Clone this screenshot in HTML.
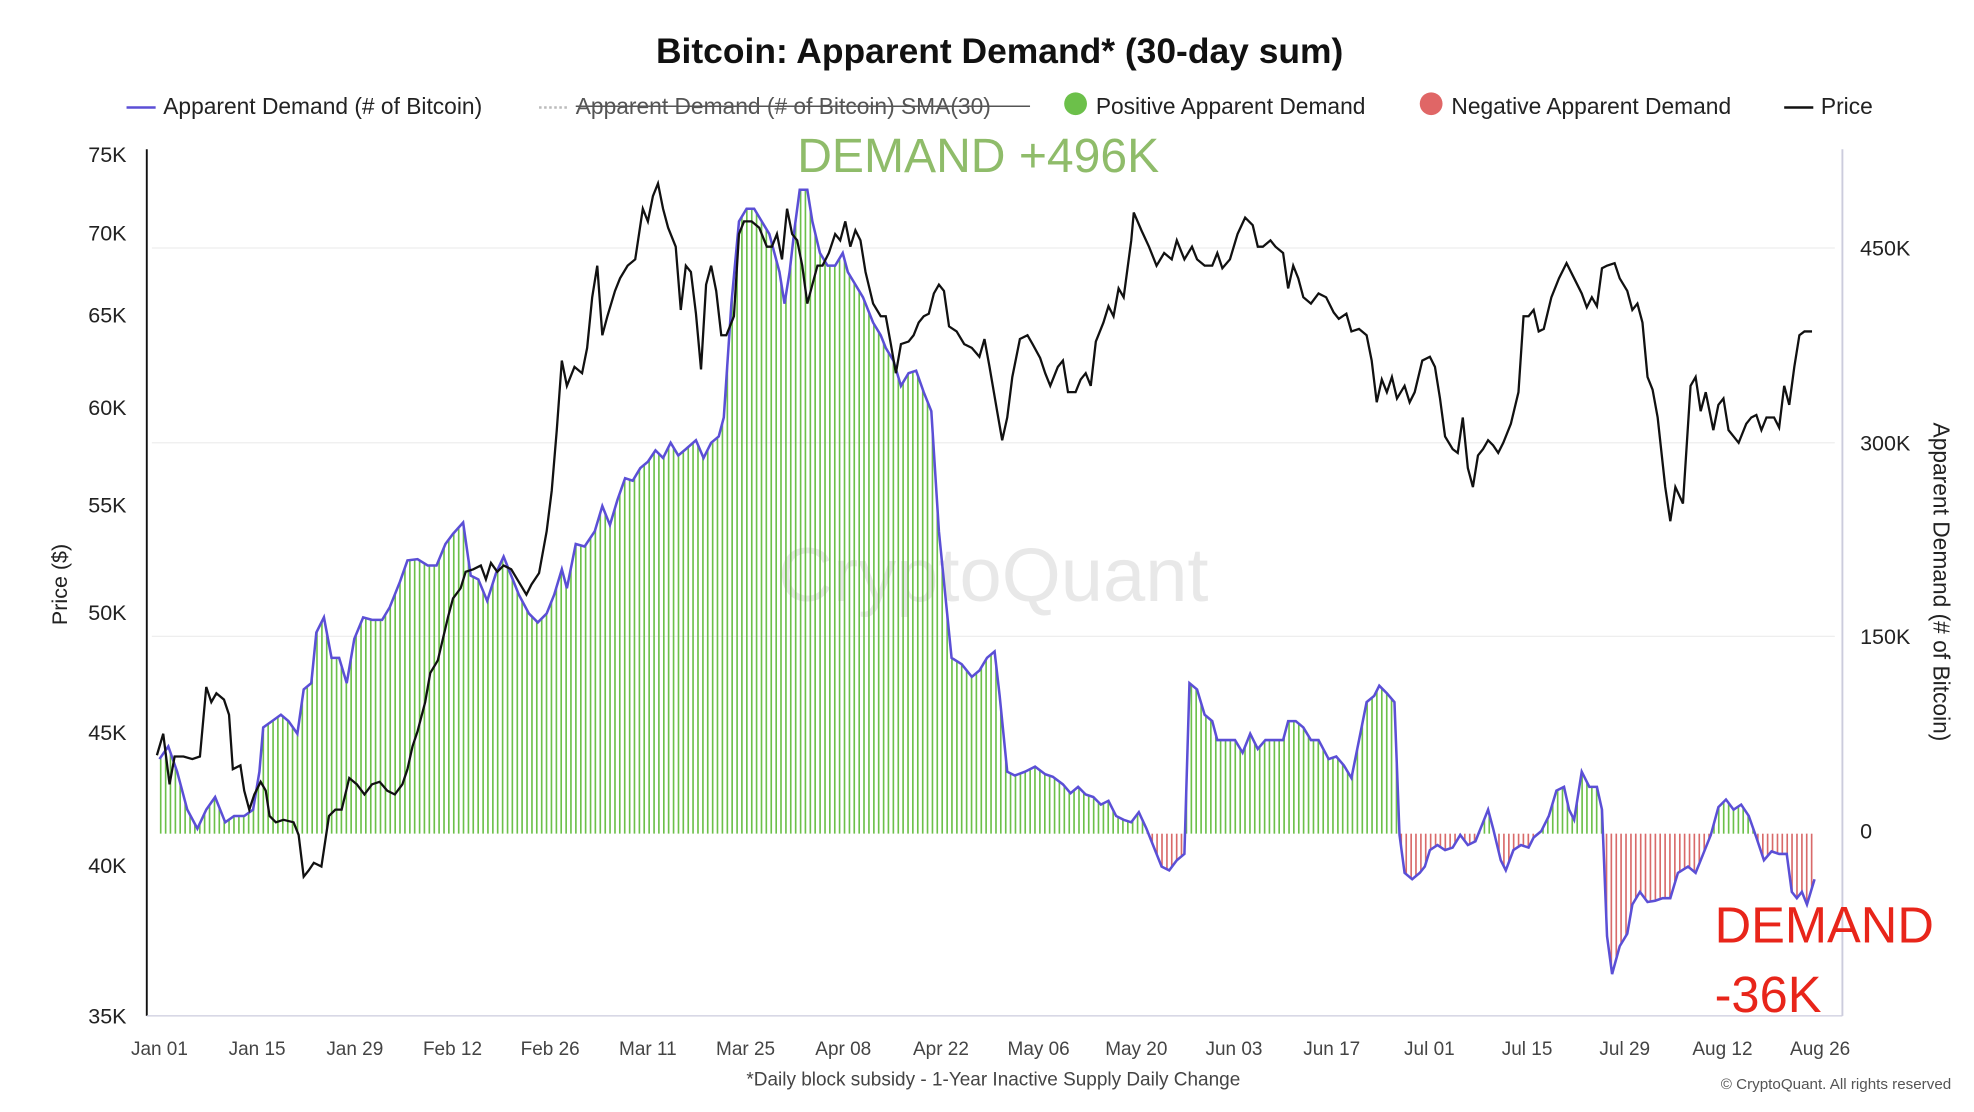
<!DOCTYPE html>
<html><head><meta charset="utf-8"><style>html,body{margin:0;padding:0;background:#fff}svg{display:block}</style></head>
<body>
<svg id="s" width="1974" height="1112" viewBox="0 0 1560 879" preserveAspectRatio="none" xmlns="http://www.w3.org/2000/svg" font-family="Liberation Sans, sans-serif">
<rect width="1560" height="879" fill="#fff"/>
<text x="790" y="50" text-anchor="middle" font-size="28" font-weight="bold" fill="#111">Bitcoin: Apparent Demand* (30-day sum)</text>
<g font-size="18" fill="#222">
<line x1="100" y1="85" x2="123" y2="85" stroke="#5b4fd6" stroke-width="2"/><text x="129" y="90">Apparent Demand (# of Bitcoin)</text>
<line x1="426" y1="85" x2="449" y2="85" stroke="#bbb" stroke-width="2" stroke-dasharray="2,2"/><text x="455" y="90" fill="#555">Apparent Demand (# of Bitcoin)  SMA(30)</text>
<line x1="455" y1="84" x2="814" y2="84" stroke="#555" stroke-width="1.2"/>
<circle cx="850" cy="82" r="9" fill="#6cc04a"/><text x="866" y="90">Positive Apparent Demand</text>
<circle cx="1131" cy="82" r="9" fill="#e06666"/><text x="1147" y="90">Negative Apparent Demand</text>
<line x1="1410" y1="85" x2="1433" y2="85" stroke="#111" stroke-width="2"/><text x="1439" y="90">Price</text>
</g>
<g stroke="#eee" stroke-width="1">
<line x1="120" y1="196" x2="1450" y2="196"/><line x1="120" y1="350" x2="1450" y2="350"/><line x1="120" y1="503" x2="1450" y2="503"/>
</g>
<line x1="116" y1="118" x2="116" y2="803" stroke="#111" stroke-width="1.5"/>
<line x1="1456" y1="118" x2="1456" y2="803" stroke="#ccd" stroke-width="1.5"/>
<line x1="116" y1="803" x2="1456" y2="803" stroke="#ccd" stroke-width="1"/>
<g font-size="17" fill="#222" text-anchor="end">
<text x="100" y="128">75K</text><text x="100" y="190">70K</text><text x="100" y="255">65K</text><text x="100" y="328">60K</text><text x="100" y="405">55K</text><text x="100" y="490">50K</text><text x="100" y="585">45K</text><text x="100" y="690">40K</text><text x="100" y="809">35K</text>
</g>
<g font-size="17" fill="#222">
<text x="1470" y="202">450K</text><text x="1470" y="356">300K</text><text x="1470" y="509">150K</text><text x="1470" y="663">0</text>
</g>
<text transform="translate(53,462) rotate(-90)" text-anchor="middle" font-size="17" fill="#222">Price ($)</text>
<text transform="translate(1528,460) rotate(90)" text-anchor="middle" font-size="18" fill="#222">Apparent Demand (# of Bitcoin)</text>
<g id="xt" font-size="15" fill="#444" text-anchor="middle"></g>
<text x="785" y="858" text-anchor="middle" font-size="15" fill="#444">*Daily block subsidy - 1-Year Inactive Supply Daily Change</text>
<text x="1542" y="861" text-anchor="end" font-size="12" fill="#555">© CryptoQuant. All rights reserved</text>
<text x="785" y="475" text-anchor="middle" font-size="60" fill="#e8e8e8">CryptoQuant</text>
<g id="bars"></g>
<polyline id="dl" fill="none" stroke="#5b4fd6" stroke-width="2"/>
<polyline id="pl" fill="none" stroke="#111" stroke-width="1.8"/>
<text x="630" y="136" font-size="38" fill="#8fbc6a">DEMAND +496K</text>
<text x="1355" y="745" font-size="40" fill="#e8251a">DEMAND</text>
<text x="1355" y="800" font-size="40" fill="#e8251a">-36K</text>
</svg>
<script>
var D=[126,600,133,590,140,610,148,640,156,655,163,640,170,630,178,650,185,645,193,645,200,640,205,610,208,575,215,570,222,565,228,570,235,580,240,545,246,540,250,500,256,488,262,520,268,520,274,540,280,505,287,488,294,490,302,490,308,480,316,460,322,443,330,442,338,447,345,447,352,430,358,422,366,413,372,455,378,458,385,475,392,453,398,440,404,455,410,470,418,485,425,492,432,485,438,470,444,450,448,465,455,430,462,432,470,420,476,400,482,415,488,395,494,378,500,380,506,370,512,365,518,356,524,362,530,350,536,360,542,355,550,348,556,362,562,350,568,345,572,330,578,240,584,175,590,165,596,165,602,175,608,185,612,200,616,215,620,240,624,215,628,180,632,150,638,150,642,175,648,200,654,210,660,210,666,200,670,215,676,225,682,235,690,255,696,265,700,275,706,285,712,305,718,295,724,293,730,310,736,325,742,420,748,480,752,520,760,525,768,535,774,530,780,520,786,515,790,550,796,610,802,613,810,610,818,606,826,612,832,614,840,620,846,627,852,622,858,628,864,630,870,636,876,633,882,645,888,648,894,650,900,642,906,655,912,670,918,685,924,688,930,680,936,675,940,540,946,545,952,565,958,570,962,585,968,585,976,585,982,595,988,580,994,592,1000,585,1008,585,1014,585,1018,570,1024,570,1030,575,1036,585,1042,585,1050,600,1056,598,1062,605,1068,615,1074,585,1080,555,1086,550,1090,542,1096,548,1102,555,1106,660,1110,690,1116,695,1122,690,1126,685,1130,672,1136,668,1142,672,1148,670,1154,660,1160,668,1166,665,1172,650,1176,640,1180,655,1186,680,1190,688,1196,672,1202,668,1208,670,1212,662,1218,657,1224,645,1230,625,1236,622,1240,640,1244,648,1250,610,1256,622,1262,622,1266,640,1270,740,1274,770,1280,748,1286,738,1290,715,1296,705,1302,713,1308,712,1314,710,1320,710,1326,690,1334,685,1340,690,1346,675,1352,660,1358,638,1364,632,1370,640,1376,636,1382,645,1388,662,1394,680,1400,673,1406,675,1412,675,1416,705,1420,710,1424,705,1428,715,1434,695];
var P=[124,597,129,580,134,620,138,598,145,598,152,600,158,598,163,543,167,555,171,548,177,553,181,565,184,608,190,605,193,625,197,640,201,628,206,618,210,625,213,645,218,650,224,648,232,650,236,660,240,693,244,688,248,682,254,685,260,645,265,640,270,640,276,615,282,620,288,628,294,620,300,618,306,625,312,628,318,620,322,608,326,590,330,578,336,555,340,532,346,522,350,505,354,488,358,473,364,465,368,452,374,450,380,447,384,458,388,445,393,452,398,447,404,450,410,460,416,470,420,462,426,453,432,420,436,388,440,340,444,285,448,305,454,290,460,295,464,275,468,235,472,210,476,265,480,250,486,230,490,220,496,210,502,205,508,165,512,175,516,155,520,145,524,165,528,180,534,195,538,245,542,210,546,215,550,248,554,292,558,225,562,210,566,230,570,265,574,265,580,250,584,185,588,175,594,175,600,180,606,195,610,195,614,185,618,205,622,165,626,185,630,190,634,210,638,240,642,225,646,210,650,210,655,200,660,185,664,190,668,175,672,195,676,182,680,190,684,215,690,240,696,250,700,250,704,272,708,295,712,272,718,270,722,265,726,255,730,250,734,248,738,232,742,225,746,230,750,258,756,262,762,272,768,275,774,282,778,268,782,290,788,325,792,348,796,330,800,298,806,268,812,265,816,272,822,283,826,295,830,305,836,290,840,285,844,310,850,310,854,300,858,295,862,305,866,270,872,255,876,242,880,250,884,228,888,235,894,190,896,168,902,182,908,195,914,210,920,200,926,205,930,190,936,205,942,195,946,205,952,210,958,210,962,200,966,212,972,205,978,185,984,172,990,178,994,195,998,195,1004,190,1008,195,1014,200,1018,228,1022,210,1026,220,1030,235,1036,240,1042,232,1048,235,1054,247,1058,252,1064,248,1068,262,1074,260,1080,265,1084,285,1088,318,1092,300,1096,310,1100,298,1104,315,1110,305,1114,318,1118,310,1124,285,1130,282,1134,290,1138,315,1142,345,1148,355,1152,358,1156,330,1160,370,1164,385,1168,360,1172,355,1176,348,1180,352,1184,358,1188,350,1194,335,1200,310,1204,250,1208,250,1212,245,1216,262,1220,260,1226,235,1232,220,1238,208,1244,220,1250,232,1254,243,1258,235,1262,242,1266,212,1270,210,1276,208,1280,220,1286,230,1290,245,1294,240,1298,255,1302,298,1306,308,1310,330,1316,385,1320,412,1324,385,1330,398,1336,305,1340,298,1344,325,1348,310,1354,340,1358,320,1362,315,1366,340,1370,345,1374,350,1380,335,1384,330,1388,328,1392,340,1396,330,1402,330,1406,338,1410,305,1414,320,1418,290,1422,265,1426,262,1432,262];
function pts(a){var s=[];for(var i=0;i<a.length;i+=2)s.push(a[i]+','+a[i+1]);return s.join(' ');}
document.getElementById('dl').setAttribute('points',pts(D));
document.getElementById('pl').setAttribute('points',pts(P));
function interp(x){for(var i=0;i<D.length-2;i+=2){if(x>=D[i]&&x<=D[i+2]){var t=(x-D[i])/(D[i+2]-D[i]);return D[i+1]+t*(D[i+3]-D[i+1]);}}return null;}
var h='',Z=659;
for(var x=127;x<=1434;x+=3.86){var y=interp(x);if(y==null)continue;var c=y<Z?'#6cc04a':'#d96a6a';h+='<line x1="'+x.toFixed(1)+'" y1="'+Z+'" x2="'+x.toFixed(1)+'" y2="'+y.toFixed(1)+'" stroke="'+c+'" stroke-width="1.3"/>';}
document.getElementById('bars').innerHTML=h;
var L=['Jan 01','Jan 15','Jan 29','Feb 12','Feb 26','Mar 11','Mar 25','Apr 08','Apr 22','May 06','May 20','Jun 03','Jun 17','Jul 01','Jul 15','Jul 29','Aug 12','Aug 26'],t='';
for(var i=0;i<L.length;i++){t+='<text x="'+(126+i*77.2).toFixed(1)+'" y="834">'+L[i]+'</text>';}
document.getElementById('xt').innerHTML=t;
</script>
</body></html>
